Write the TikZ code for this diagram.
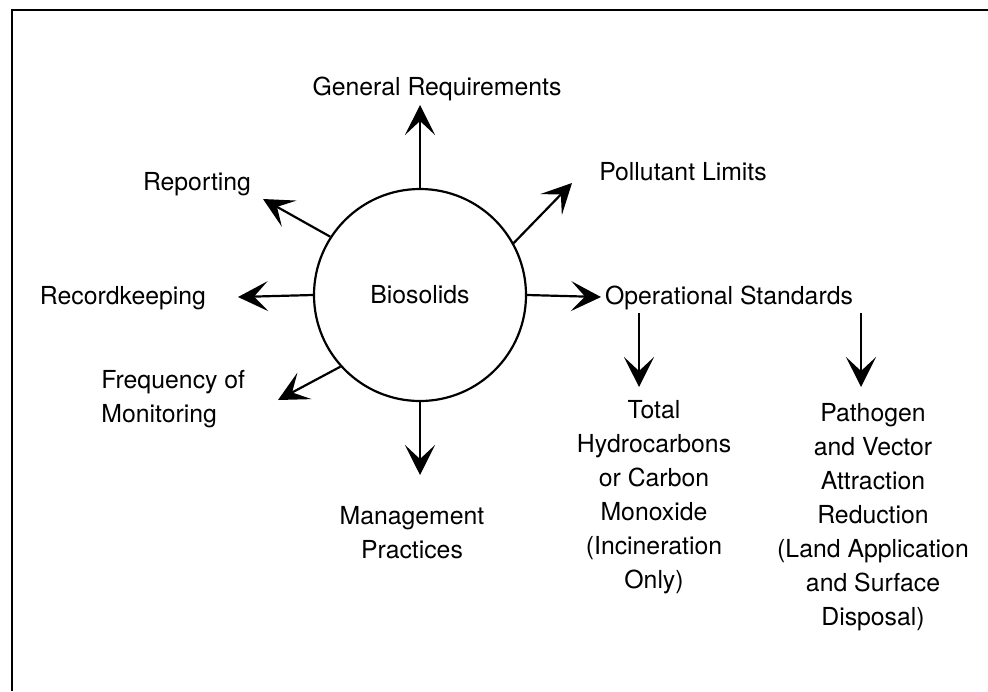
\documentclass[tikz,border=0pt]{standalone}
\usepackage{fontspec}
\setmainfont{TeX Gyre Heros}
\usetikzlibrary{arrows.meta}

\begin{document}
\begin{tikzpicture}[x=0.5pt,y=-0.5pt,
		lbl/.style={inner sep=0pt, align=center, font=\fontsize{12.4}{17}\selectfont},
		arr/.style={line width=1.1pt, -{Stealth[length=15pt,width=15pt,inset=7pt]}}]
			\useasboundingbox (0,0) rectangle (988,691);
			% frame
			\draw [line width=1.2pt] (12,691) -- (12,10) -- (988,10);
			% centre
			\node [circle, draw, line width=1.1pt, minimum size=106pt, lbl] (bio) at (420,295) {Biosolids};
			% labels
			\node [lbl] (gen) at (437,89) {General Requirements};
			\node [lbl] (rep) at (197,184) {Reporting};
			\node [lbl] (pol) at (683,172) {Pollutant Limits};
			\node [lbl] (rec) at (123,298) {Recordkeeping};
			\node [lbl] (ops) at (729,298) {Operational Standards};
			\node [lbl, align=left, anchor=west] (frq) at (101,399) {Frequency of\\Monitoring};
			\node [lbl] (mgt) at (412,533) {Management\\Practices};
			\node [lbl] (thc) at (654,497) {Total\\Hydrocarbons\\or Carbon\\Monoxide\\(Incineration\\Only)};
			\node [lbl] (pvr) at (873,517) {Pathogen\\and Vector\\Attraction\\Reduction\\(Land Application\\and Surface\\Disposal)};
			% arrow ends
			\coordinate (genTip) at (420,105);
			\coordinate (repTip) at (263,199);
			\coordinate (polTip) at (572,183);
			\coordinate (recTip) at (238,297);
			\coordinate (opsTip) at (601,297);
			\coordinate (frqTip) at (278,400);
			\coordinate (mgtTip) at (420,475);
			\coordinate (thcTop) at (639,313);
			\coordinate (thcTip) at (639,387);
			\coordinate (pvrTop) at (861,313);
			\coordinate (pvrTip) at (861,387);
			% arrows
			\draw [arr] (bio.north) -- (genTip);
			\draw [arr] (bio.147) -- (repTip);
			\draw [arr] (bio.29) -- (polTip);
			\draw [arr] (bio.west) -- (recTip);
			\draw [arr] (bio.east) -- (opsTip);
			\draw [arr] (bio.222) -- (frqTip);
			\draw [arr] (bio.south) -- (mgtTip);
			\draw [arr] (thcTop) -- (thcTip);
			\draw [arr] (pvrTop) -- (pvrTip);
		\end{tikzpicture}
\end{document}
